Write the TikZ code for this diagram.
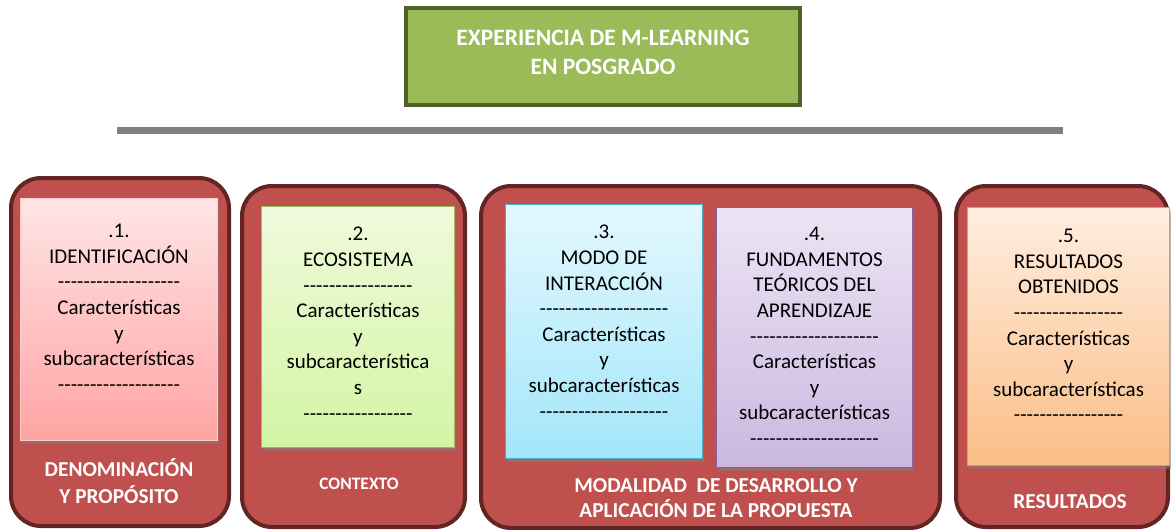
\documentclass[tikz,border=0pt]{standalone}
\usepackage{fontspec}
\setmainfont{Carlito}
\usepackage{tikz}
\usetikzlibrary{positioning,shadows}
\usepackage{xcolor}
\definecolor{redfill}{HTML}{C0504D}
\definecolor{redline}{HTML}{632523}
\definecolor{olive}{HTML}{9BBB59}
\definecolor{oliveline}{HTML}{4F6228}
\definecolor{rulegray}{HTML}{808080}
\tikzset{
  group/.style={draw=redline,fill=redfill,line width=4pt,rounded corners=30pt},
  card/.style={rectangle,line width=1pt,anchor=north west,inner sep=0pt,
    drop shadow={shadow xshift=1pt,shadow yshift=-3pt,opacity=0.5}},
  cardtext/.style={anchor=north,align=center,inner sep=0pt,
    font=\fontsize{21}{25.6}\selectfont},
  grouplabel/.style={align=center,text=white,inner sep=0pt,
    font=\bfseries\fontsize{21.3}{27}\selectfont},
  title/.style={draw=oliveline,fill=olive,line width=4pt,text=white,align=center,
    font=\bfseries\fontsize{23.5}{29}\selectfont}
}
\newcommand{\dashrow}[1]{\foreach \i in {1,...,#1}{-}}
\begin{document}
\begin{tikzpicture}[x=1pt,y=-1pt]
\useasboundingbox (0,0) rectangle (1171,530);
% header
\node[title,minimum width=394pt,minimum height=97pt,text depth=9pt] (head) at (603,56.5) {EXPERIENCIA DE M-LEARNING\\EN POSGRADO};
\coordinate (ruleL) at (117,130.5);
\coordinate (ruleR) at (1063,130.5);
\draw[rulegray,line width=7pt] (ruleL)--(ruleR);
% groups
\draw[group] (11,178) rectangle (229,526);
\draw[group] (242,186) rectangle (465,527);
\draw[group] (481,186) rectangle (940,528);
\draw[group] (956,186) rectangle (1168,527);
% cards
\node[card,draw=red!20,top color={rgb,255:red,255;green,229;blue,229},bottom color={rgb,255:red,255;green,163;blue,163},minimum width=197pt,minimum height=242pt] (c1) at (20,198) {};
\node[card,draw=olive,top color={rgb,255:red,240;green,250;blue,220},bottom color={rgb,255:red,210;green,245;blue,165},minimum width=193pt,minimum height=241pt] (c2) at (261,206) {};
\node[card,draw={rgb,255:red,75;green,172;blue,198},top color={rgb,255:red,227;green,248;blue,254},bottom color={rgb,255:red,163;green,230;blue,250},minimum width=197pt,minimum height=254pt] (c3) at (505,204) {};
\node[card,draw={rgb,255:red,128;green,100;blue,162},top color={rgb,255:red,236;green,228;blue,244},bottom color={rgb,255:red,203;green,184;blue,224},minimum width=196pt,minimum height=260pt] (c4) at (716,207) {};
\node[card,draw={rgb,255:red,247;green,150;blue,70},top color={rgb,255:red,255;green,238;blue,224},bottom color={rgb,255:red,251;green,190;blue,134},minimum width=202pt,minimum height=258pt] (c5) at (967,207) {};
% card texts
\node[cardtext] (t1) at ([yshift=-26pt]c1.north) {.1.\\IDENTIFICACIÓN\\\dashrow{19}\\Características\\y\\subcaracterísticas\\\dashrow{19}};
\node[cardtext] (t2) at ([yshift=-21pt]c2.north) {.2.\\ECOSISTEMA\\\dashrow{17}\\Características\\y\\subcaracterística\\s\\\dashrow{17}};
\node[cardtext] (t3) at ([yshift=-21pt]c3.north) {.3.\\MODO DE\\INTERACCIÓN\\\dashrow{20}\\Características\\y\\subcaracterísticas\\\dashrow{20}};
\node[cardtext] (t4) at ([yshift=-20pt]c4.north) {.4.\\FUNDAMENTOS\\TEÓRICOS DEL\\APRENDIZAJE\\\dashrow{20}\\Características\\y\\subcaracterísticas\\\dashrow{20}};
\node[cardtext] (t5) at ([yshift=-22pt]c5.north) {.5.\\RESULTADOS\\OBTENIDOS\\\dashrow{17}\\Características\\y\\subcaracterísticas\\\dashrow{17}};
% group labels
\node[grouplabel] (g1) at (119,481) {DENOMINACIÓN\\Y PROPÓSITO};
\node[grouplabel,font=\bfseries\fontsize{17.5}{20}\selectfont] (g2) at (359,484) {CONTEXTO};
\node[grouplabel,font=\bfseries\fontsize{21.3}{25}\selectfont] (g3) at (716,498) {MODALIDAD\ \ DE DESARROLLO Y\\APLICACIÓN DE LA PROPUESTA};
\node[grouplabel] (g5) at (1070,502) {RESULTADOS};
\end{tikzpicture}
\end{document}
